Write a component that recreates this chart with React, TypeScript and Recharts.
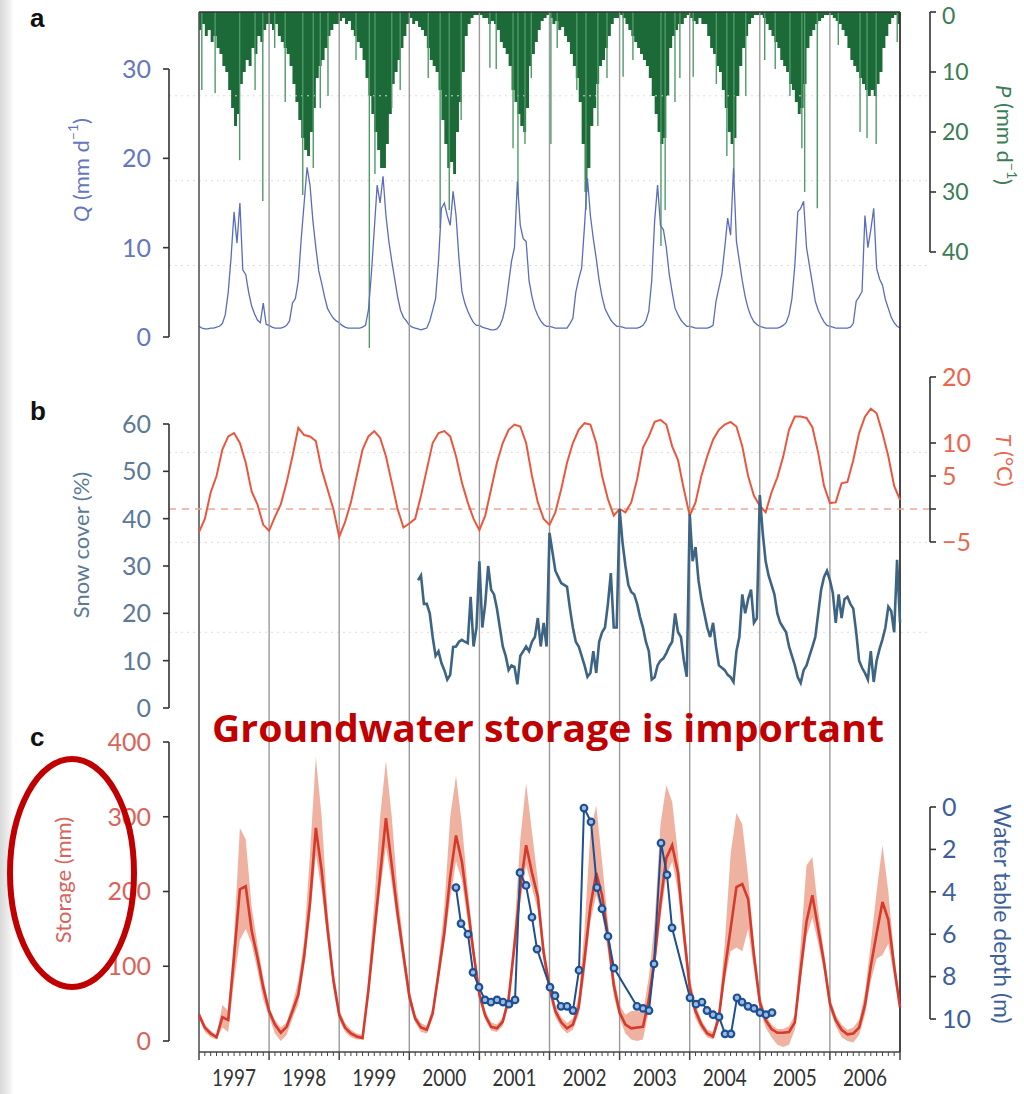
import React from 'react';
import {
  ComposedChart,
  Area,
  Line,
  Scatter,
  ErrorBar,
  XAxis,
  YAxis,
  ReferenceLine,
} from 'recharts';

// ---------- values ----------
const years = [1997, 1998, 1999, 2000, 2001, 2002, 2003, 2004, 2005, 2006];

// a: discharge Q (mm/d), 24 values per year from 1997.0, last one at 2007.0
const discharge = [
  1.2, 1.0, 0.9, 0.9, 1.0, 1.0, 1.1, 1.2, 1.5, 2.5, 5, 9, 14, 10.5, 15, 7.5, 7, 5, 3.5, 2.6, 1.9, 1.6, 3.8, 1.4,
  1.3, 1.1, 1.0, 1.0, 1.0, 1.1, 1.3, 1.8, 3.8, 4.3, 6.3, 11, 15, 19, 17, 13, 10, 7.4, 6, 4.5, 3.2, 2.6, 2.1, 1.8,
  1.6, 1.3, 1.1, 1.0, 1.0, 1.0, 1.0, 1.0, 1.1, 1.3, 3, 7, 12, 17, 15, 18, 13.6, 10.7, 8.5, 6.5, 4.5, 3, 2.2, 1.8,
  1.3, 1.1, 1.0, 0.9, 0.8, 0.9, 1.0, 1.8, 3, 4.3, 8.5, 14.4, 15, 13.6, 12.5, 16.3, 13.6, 8.8, 5.1, 3.8, 2.9, 2.2, 1.6, 1.3,
  1.3, 1.1, 1.0, 0.9, 0.8, 0.8, 0.9, 1.3, 2.1, 3.5, 6, 8.5, 10, 17.4, 12.5, 11, 10.7, 6.3, 4.5, 3.2, 2.4, 1.8, 1.4, 1.2,
  1.2, 1.1, 1.0, 1.0, 1.0, 1.0, 1.0, 1.5, 2.1, 5, 6.5, 7.7, 12.5, 17.8, 13.6, 11, 8.8, 6.3, 4.5, 3.2, 2.5, 1.9, 1.5, 1.2,
  1.2, 1.1, 1.0, 1.0, 1.0, 1.0, 1.0, 1.1, 1.3, 1.8, 2.9, 6.3, 13, 17, 12.5, 12, 10, 7, 5, 3.2, 2.5, 1.9, 1.5, 1.2,
  1.2, 1.1, 1.0, 1.0, 1.0, 1.0, 1.0, 1.1, 1.3, 4, 5.5, 7, 10, 13.3, 11.4, 18.9, 10.7, 8.5, 6.3, 4.5, 3.2, 2.3, 1.7, 1.4,
  1.2, 1.1, 1.0, 1.0, 1.0, 1.0, 1.0, 1.1, 1.3, 1.6, 2.5, 4.3, 8, 14, 14.4, 15.2, 10, 8, 6, 4, 3, 2.3, 1.7, 1.3,
  1.2, 1.1, 1.0, 1.0, 1.0, 1.0, 1.0, 1.1, 1.5, 4, 4.5, 5.1, 13.6, 10, 12, 14.4, 7.7, 6.5, 5.8, 4.2, 3.2, 2.2, 1.6, 1.2,
  1.0,
];

// a: precipitation P (mm/d), bulk of the daily bars, 24 per year
const precip = [
  3, 2, 4, 3, 5, 4, 6, 7, 9, 10, 13, 16, 19, 17, 12, 10, 8, 9, 6, 7, 4, 5, 3, 2,
  2, 3, 2, 4, 5, 6, 7, 9, 12, 15, 18, 21, 23, 24, 20, 16, 11, 9, 8, 6, 4, 3, 2, 2,
  1.5, 1, 2, 1.5, 3, 4, 5, 6, 8, 11, 14, 17, 20, 23, 26, 26, 22, 17, 12, 10, 8, 6, 4, 2,
  1, 2, 1.5, 2.5, 3, 4, 6, 8, 9, 10, 13, 18, 22, 26, 25, 27, 20, 15, 10, 4, 2, 1, 0.5, 0.5,
  0.5, 1, 1, 2, 1.5, 2, 3, 5, 6, 7, 9, 13, 15, 17, 19, 20, 16, 9, 7, 5, 3, 1.5, 1, 0.5,
  1, 2, 1.5, 3, 2.5, 4, 5, 7, 9, 11, 15, 22, 30, 26, 19, 16, 12, 9, 8, 6, 4, 2, 1, 1,
  0.5, 1, 2, 3, 4, 5, 6, 7, 8, 9, 11, 14, 17, 20, 22, 21, 14, 6, 4, 3, 2, 2, 1, 0.5,
  1, 1.5, 2, 1, 2, 2, 4, 6, 7, 9, 10, 13, 16, 20, 22, 21, 14, 9, 6, 4, 2, 1, 0.5, 0.5,
  0.5, 1, 2, 3, 4, 5, 6, 8, 9, 10, 12, 13, 15, 17, 16, 12, 6, 4, 3, 2, 1.5, 1, 0.5, 0.5,
  0.5, 1, 1.5, 2, 3, 4, 6, 8, 9, 10, 11, 12, 13, 14, 13, 14, 12, 10, 6, 4, 2, 1, 0.5, 2,
  2,
];

// a: single wet days that stick out of the bulk [time, P]
const precipSpikes = [
  [1997.04, 13], [1997.23, 13.5], [1997.58, 24.7], [1997.8, 13], [1997.91, 31.5],
  [1998.08, 6], [1998.23, 15], [1998.48, 30.5], [1998.63, 26], [1998.73, 16], [1998.84, 14],
  [1999.24, 8], [1999.43, 56], [1999.51, 27], [1999.75, 16], [1999.87, 13],
  [2000.27, 11], [2000.44, 36], [2000.57, 33], [2000.74, 18],
  [2001.15, 9.3], [2001.24, 9.5], [2001.48, 22.7], [2001.55, 30.5], [2001.65, 22], [2001.74, 11],
  [2002.02, 22], [2002.11, 6], [2002.39, 13], [2002.52, 33], [2002.69, 19], [2002.82, 11],
  [2003.05, 10.8], [2003.19, 8], [2003.59, 39], [2003.65, 33], [2003.79, 15], [2003.86, 11],
  [2004.05, 10.8], [2004.38, 12], [2004.53, 24], [2004.63, 27.7], [2004.8, 14],
  [2005.07, 8], [2005.22, 9.5], [2005.43, 14], [2005.6, 22.7], [2005.64, 30], [2005.82, 32.7],
  [2006.12, 5.5], [2006.43, 20], [2006.53, 21], [2006.66, 22], [2006.96, 5],
];

// b: air temperature T (°C), monthly from 1997.0, last at 2007.0
const temperature = [
  -3.5, -1.5, 2.5, 5, 9, 11, 11.5, 10, 7, 2.7, 0.7, -2.4,
  -3.3, -1.2, 0.7, 4, 8, 12.3, 11.2, 11, 10.3, 6, 3, 0,
  -4.2, -2, 1, 5, 9, 11, 11.8, 10.8, 8, 4, 0, -2.8,
  -2.2, -1.5, 2, 6, 10, 11.5, 11.8, 11, 8, 4, 1, -1.5,
  -3.2, -1, 3, 7, 10, 12, 12.8, 12.5, 10, 5, 1, -1.5,
  -2.4, -0.5, 3, 7, 10, 12, 13, 12.8, 10, 5, 1.5, -1,
  0, -0.5, 1, 4.5, 9.3, 11, 13.2, 13.5, 12.8, 9.5, 7.4, 3,
  -1, 1, 5, 8, 10.5, 12, 12.8, 13.2, 12.5, 9.5, 5, 2,
  0.5, -0.5, 2.5, 4.8, 7.9, 12, 14, 14, 13.8, 12.4, 8.5, 3.5,
  0.9, 1, 3.9, 4.1, 7.4, 11.5, 14, 15.2, 14.5, 11.5, 8, 3.5,
  1.4,
];

// b: snow cover (%), 24 per year starting 2000.125
const snowStart = 2000.125;
const snowCover = [
  27, 28, 22, 22, 20, 15, 11, 12, 9.5, 8, 6, 7, 12.9, 13, 14, 14.4, 14, 13.7, 23.5, 13, 17,
  31, 17, 22, 30, 25, 24, 21, 17, 13, 11, 8, 9, 8.7, 5, 11, 12, 13, 12, 14, 15, 19, 13, 18, 13,
  37, 33, 29, 27.7, 26.4, 26, 25.6, 21, 17, 14, 13, 11, 9, 6.6, 7.4, 12, 7.4, 14, 16, 17, 22, 28.5, 17, 17,
  42, 35, 30, 26, 24.5, 24, 22, 19.2, 17, 14, 12, 6, 6.5, 9, 10, 10.5, 11.6, 13, 14, 20, 16, 15, 10, 6.6,
  41, 31, 34, 27, 23, 20, 17, 15, 18, 13, 9, 8.5, 8, 7, 6.5, 5.5, 12, 15, 24, 20, 23, 25, 18, 19,
  45, 37, 31, 28, 26, 24, 20, 18, 17, 16, 13, 11, 9, 6.5, 5.3, 8, 9, 11, 12.9, 15, 20, 25, 27.7, 29,
  27, 24.3, 18, 24, 19, 23, 23.5, 22, 21, 16, 10, 8.5, 7.4, 6, 12, 5.5, 10, 12.5, 14.5, 17, 21.4, 20.5, 16, 31.3,
  18,
];

// c: modelled storage (mm) with its uncertainty band, monthly from 1997.0
const storage = [
  35, 18, 10, 5, 32, 28, 113, 203, 207, 148, 112, 72,
  40, 22, 11, 19, 40, 62, 113, 185, 285, 228, 150, 82,
  35, 18, 10, 6, 4, 68, 145, 222, 298, 235, 170, 115,
  60, 30, 18, 15, 37, 90, 145, 220, 275, 240, 180, 118,
  62, 34, 19, 17, 26, 56, 128, 205, 262, 225, 193, 118,
  72, 40, 25, 17, 22, 45, 110, 180, 225, 195, 140, 75,
  38, 22, 17, 18, 19, 55, 110, 185, 245, 262, 225, 145,
  72, 40, 22, 10, 6, 32, 95, 150, 206, 210, 190, 115,
  52, 28, 16, 11, 11, 12, 25, 95, 160, 195, 150, 105,
  50, 28, 15, 9, 10, 18, 48, 100, 144, 186, 162, 100,
  45,
];
const storageLow = [
  30, 12, 5, 2, 18, 12, 80, 135, 150, 130, 95, 55,
  32, 10, 0, 8, 30, 50, 100, 165, 250, 200, 135, 70,
  28, 12, 5, 2, 2, 55, 130, 200, 260, 210, 155, 100,
  50, 25, 12, 10, 30, 80, 130, 190, 240, 215, 160, 105,
  55, 28, 14, 12, 20, 48, 115, 185, 235, 205, 175, 105,
  62, 32, 18, 10, 15, 35, 90, 160, 195, 170, 120, 60,
  30, 10, 2, 0, 2, 40, 95, 165, 220, 240, 200, 125,
  60, 30, 15, 5, 2, 25, 80, 120, 125, 120, 150, 95,
  42, 18, 5, -5, -8, -5, 15, 80, 140, 165, 130, 92,
  42, 20, 5, 0, -2, 8, 35, 80, 110, 115, 130, 85,
  38,
];
const storageHigh = [
  40, 22, 14, 8, 48, 40, 140, 285, 270, 180, 130, 85,
  45, 28, 18, 25, 50, 80, 135, 250, 380, 300, 175, 95,
  42, 24, 15, 10, 8, 85, 185, 300, 375, 300, 200, 130,
  70, 36, 24, 20, 45, 105, 180, 300, 355, 290, 205, 130,
  70, 40, 25, 22, 32, 66, 150, 270, 345, 280, 215, 130,
  82, 48, 32, 24, 30, 60, 150, 280, 315, 240, 160, 88,
  48, 35, 40, 40, 38, 85, 160, 290, 342, 320, 250, 165,
  85, 50, 28, 15, 12, 45, 130, 250, 305, 290, 220, 130,
  62, 35, 22, 16, 16, 20, 35, 130, 235, 246, 175, 118,
  58, 35, 22, 15, 18, 28, 65, 130, 200, 262, 200, 115,
  52,
];

// c: observed water table depth (m) [time, depth]
const waterTable = [
  [2000.666, 3.8], [2000.738, 5.5], [2000.837, 6.0], [2000.909, 7.8], [2000.994, 8.5],
  [2001.08, 9.1], [2001.165, 9.2], [2001.251, 9.1], [2001.337, 9.2], [2001.422, 9.3], [2001.508, 9.1],
  [2001.579, 3.1], [2001.665, 3.7], [2001.75, 5.2], [2001.822, 6.7],
  [2002.007, 8.5], [2002.078, 8.9], [2002.164, 9.4], [2002.25, 9.4], [2002.335, 9.6], [2002.421, 7.7],
  [2002.492, 0.05], [2002.592, 0.7], [2002.678, 3.8], [2002.749, 4.8], [2002.834, 6.1], [2002.92, 7.6],
  [2003.248, 9.4], [2003.334, 9.5], [2003.419, 9.6], [2003.491, 7.4], [2003.591, 1.7], [2003.676, 3.2], [2003.748, 5.7],
  [2004.004, 9.0], [2004.09, 9.3], [2004.175, 9.2], [2004.247, 9.6], [2004.333, 9.8], [2004.418, 9.9],
  [2004.504, 10.7], [2004.589, 10.7], [2004.675, 9.0], [2004.746, 9.2], [2004.832, 9.4], [2004.917, 9.5],
  [2005.003, 9.7], [2005.089, 9.8], [2005.174, 9.7],
];

const qTicks = [0, 10, 20, 30];
const pTicks = [0, 10, 20, 30, 40];
const snowTicks = [0, 10, 20, 30, 40, 50, 60];
const tTicks = [-5, 0, 5, 10, 20];
const storageTicks = [0, 100, 200, 300, 400];
const depthTicks = [0, 2, 4, 6, 8, 10];
const qGuides = [27, 17.5, 8];
const snowGuides = [54, 35, 16];

// ---------- tables for the library ----------
const qData = discharge.map((q, i) => ({ t: 1997 + i / 24, q }));
const pData = precip.map((p, i) => ({ t: 1997 + i / 24, p }));
const spikeData = precipSpikes.map(([t, p]) => ({ t, p, err: [p, 0] }));
const tempData = temperature.map((temp, i) => ({ t: 1997 + i / 12, temp }));
const snowData = snowCover.map((snow, i) => ({ t: snowStart + i / 24, snow }));
const storageData = storage.map((st, i) => ({
  t: 1997 + i / 12,
  st,
  band: [storageLow[i], storageHigh[i]],
}));
const waterData = waterTable.map(([t, d]) => ({ t, d }));
const monthTicks = [...years.flatMap((y) => Array.from({ length: 12 }, (_, m) => y + m / 12)), 2007];
const innerYears = years.slice(1);

// ---------- layout ----------
const W = 1024;
const H = 1094;
const PLOT_L = 169;
const PLOT_R = 930;
const PX_YEAR = 70.1;
const X_MIN = 1997 - (199 - PLOT_L) / PX_YEAR;
const X_MAX = 2007 + (PLOT_R - 900) / PX_YEAR;
const LEFT_W = 80;
const RIGHT_W = 60;
const FONT = "Lato, 'Open Sans', sans-serif";

// axis value at a page y, from two tick positions
const lin = (v0: number, y0: number, v1: number, y1: number) => (y: number) =>
  v0 + ((y - y0) * (v1 - v0)) / (y1 - y0);
const domainOf = (f: (y: number) => number, top: number, bottom: number): [number, number] => {
  const a = f(top);
  const b = f(bottom);
  return [Math.min(a, b), Math.max(a, b)];
};

const A_TOP = 12, A_BOT = 355;
const B_TOP = 355, B_BOT = 715;
const C_TOP = 715, C_BOT = 1052;
const qDomain = domainOf(lin(0, 337, 30, 69), A_TOP, A_BOT);
const pDomain = domainOf(lin(0, 12, 40, 252), A_TOP, A_BOT);
const snowDomain = domainOf(lin(0, 708, 60, 424), B_TOP, B_BOT);
const tDomain = domainOf(lin(-5, 542, 20, 377), B_TOP, B_BOT);
const stDomain = domainOf(lin(0, 1041, 400, 742), C_TOP, C_BOT);
const wDomain = domainOf(lin(0, 807, 10, 1019), C_TOP, C_BOT);

const C = {
  q: '#5a6cbc',
  qText: '#6677bb',
  p: '#1b6a37',
  pSpike: '#4f9a68',
  pText: '#3b7c55',
  t: '#e9573e',
  tText: '#e8674e',
  snow: '#3e6484',
  snowText: '#5b7a96',
  st: '#d53a2d',
  band: '#eca48f',
  stText: '#d8645c',
  w: '#1d4f91',
  wText: '#3d6099',
  axis: '#333',
  year: '#9a9a9a',
};

const margin = (top: number, bottom: number) => ({
  top,
  bottom: H - bottom,
  left: PLOT_L - LEFT_W,
  right: W - PLOT_R - RIGHT_W,
});

const tickStyle = (fill: string, size = 25) => ({ fill, fontSize: size, fontFamily: FONT });

const frame = (axisId: string) => [
  <ReferenceLine key="l" x={1997} yAxisId={axisId} stroke="#555" strokeWidth={1.6} />,
  <ReferenceLine key="r" x={2007} yAxisId={axisId} stroke="#333" strokeWidth={1.8} />,
  ...innerYears.map((y) => (
    <ReferenceLine key={y} x={y} yAxisId={axisId} stroke={C.year} strokeWidth={1.4} />
  )),
];

const bracket = (axisId: string, x: number, lo: number, hi: number) => (
  <ReferenceLine
    yAxisId={axisId}
    segment={[{ x, y: lo }, { x, y: hi }]}
    stroke={C.axis}
    strokeWidth={1.6}
  />
);

const fmtMinus = (v: number) => (v === 0 ? '' : v < 0 ? `\u2212${-v}` : `${v}`);

const YearTick = (props: any) => {
  const { x, y, payload } = props;
  const v = payload.value as number;
  const isYear = Math.abs(v - Math.round(v)) < 1e-6;
  const isMid = Math.abs(v - Math.floor(v) - 0.5) < 1e-6;
  return (
    <g>
      <line x1={x} x2={x} y1={y} y2={y + (isYear ? 8 : 4)} stroke="#444" strokeWidth={isYear ? 1.5 : 1} />
      {isMid && (
        <text
          x={x}
          y={y + 34}
          textAnchor="middle"
          fontSize={23}
          fontFamily={FONT}
          fill="#333"
          textLength={44}
          lengthAdjust="spacingAndGlyphs"
        >
          {Math.floor(v)}
        </text>
      )}
    </g>
  );
};

// right-hand P ticks: the top "0" sits on the frame, keep it inside the page
const PTick = (props: any) => {
  const { x, y, payload } = props;
  return (
    <text x={x} y={Math.max(y, 16)} dy="0.36em" textAnchor="start" fontSize={23} fontFamily={FONT} fill={C.pText}>
      {payload.value}
    </text>
  );
};

const layer: React.CSSProperties = { position: 'absolute', left: 0, top: 0 };

function PanelA() {
  return (
    <ComposedChart width={W} height={H} margin={margin(A_TOP, A_BOT)}>
      <XAxis type="number" dataKey="t" domain={[X_MIN, X_MAX]} allowDataOverflow hide />
      <YAxis
        yAxisId="q"
        orientation="left"
        width={LEFT_W}
        type="number"
        domain={qDomain}
        allowDataOverflow
        ticks={qTicks}
        interval={0}
        axisLine={false}
        tickLine={{ stroke: C.axis, strokeWidth: 1.6 }}
        tickSize={6}
        tickMargin={12}
        tick={tickStyle(C.qText)}
      />
      <YAxis
        yAxisId="p"
        orientation="right"
        width={RIGHT_W}
        type="number"
        reversed
        domain={pDomain}
        allowDataOverflow
        ticks={pTicks}
        interval={0}
        axisLine={false}
        tickLine={{ stroke: C.axis, strokeWidth: 1.6 }}
        tickSize={6}
        tickMargin={6}
        tick={<PTick />}
      />
      {qGuides.map((g) => (
        <ReferenceLine key={g} y={g} yAxisId="q" stroke="#dcdcdc" strokeDasharray="2 4" />
      ))}
      <Area
        data={pData}
        dataKey="p"
        yAxisId="p"
        type="stepAfter"
        stroke="none"
        fill={C.p}
        fillOpacity={1}
        isAnimationActive={false}
      />
      <Scatter data={spikeData} dataKey="p" yAxisId="p" shape={() => <g />} isAnimationActive={false}>
        <ErrorBar dataKey="err" direction="y" width={0} stroke={C.pSpike} strokeWidth={1.4} />
      </Scatter>
      <Line
        data={qData}
        dataKey="q"
        yAxisId="q"
        type="linear"
        stroke={C.q}
        strokeWidth={1.3}
        dot={false}
        isAnimationActive={false}
      />
      {frame('q')}
      <ReferenceLine
        yAxisId="p"
        segment={[{ x: 1997, y: 0 }, { x: 2007, y: 0 }]}
        stroke="#333"
        strokeWidth={1.6}
      />
      {bracket('q', X_MIN, 0, 30)}
      {bracket('p', X_MAX, 0, 40)}
    </ComposedChart>
  );
}

function PanelB() {
  return (
    <ComposedChart width={W} height={H} margin={margin(B_TOP, B_BOT)}>
      <XAxis type="number" dataKey="t" domain={[X_MIN, X_MAX]} allowDataOverflow hide />
      <YAxis
        yAxisId="s"
        orientation="left"
        width={LEFT_W}
        type="number"
        domain={snowDomain}
        allowDataOverflow
        ticks={snowTicks}
        interval={0}
        axisLine={false}
        tickLine={{ stroke: C.axis, strokeWidth: 1.6 }}
        tickSize={6}
        tickMargin={12}
        tick={tickStyle(C.snowText)}
      />
      <YAxis
        yAxisId="t"
        orientation="right"
        width={RIGHT_W}
        type="number"
        domain={tDomain}
        allowDataOverflow
        ticks={tTicks}
        interval={0}
        axisLine={false}
        tickLine={{ stroke: C.axis, strokeWidth: 1.6 }}
        tickSize={6}
        tickMargin={6}
        tickFormatter={fmtMinus}
        tick={tickStyle(C.tText)}
      />
      {snowGuides.map((g) => (
        <ReferenceLine key={g} y={g} yAxisId="s" stroke="#dcdcdc" strokeDasharray="2 4" />
      ))}
      {frame('s')}
      <ReferenceLine y={0} yAxisId="t" stroke="#f1a890" strokeDasharray="7 6" strokeWidth={1.5} />
      <Line
        data={tempData}
        dataKey="temp"
        yAxisId="t"
        type="linear"
        stroke={C.t}
        strokeWidth={2}
        dot={false}
        isAnimationActive={false}
      />
      <Line
        data={snowData}
        dataKey="snow"
        yAxisId="s"
        type="linear"
        stroke={C.snow}
        strokeWidth={2.6}
        dot={false}
        isAnimationActive={false}
      />
      {bracket('s', X_MIN, 0, 60)}
      {bracket('t', X_MAX, -5, 20)}
    </ComposedChart>
  );
}

function PanelC() {
  return (
    <ComposedChart width={W} height={H} margin={{ ...margin(C_TOP, C_BOT), bottom: H - C_BOT - 40 }}>
      <XAxis
        type="number"
        dataKey="t"
        domain={[X_MIN, X_MAX]}
        allowDataOverflow
        ticks={monthTicks}
        interval={0}
        axisLine={false}
        tickLine={false}
        tickSize={0}
        tickMargin={0}
        height={40}
        tick={<YearTick />}
      />
      <YAxis
        yAxisId="st"
        orientation="left"
        width={LEFT_W}
        type="number"
        domain={stDomain}
        allowDataOverflow
        ticks={storageTicks}
        interval={0}
        axisLine={false}
        tickLine={{ stroke: C.axis, strokeWidth: 1.6 }}
        tickSize={6}
        tickMargin={12}
        tick={tickStyle(C.stText)}
      />
      <YAxis
        yAxisId="w"
        orientation="right"
        width={RIGHT_W}
        type="number"
        reversed
        domain={wDomain}
        allowDataOverflow
        ticks={depthTicks}
        interval={0}
        axisLine={false}
        tickLine={{ stroke: C.axis, strokeWidth: 1.6 }}
        tickSize={6}
        tickMargin={6}
        tick={tickStyle(C.wText)}
      />
      {frame('st')}
      <Area
        data={storageData}
        dataKey="band"
        yAxisId="st"
        type="linear"
        stroke="none"
        fill={C.band}
        fillOpacity={0.85}
        isAnimationActive={false}
      />
      <Line
        data={storageData}
        dataKey="st"
        yAxisId="st"
        type="linear"
        stroke={C.st}
        strokeWidth={2.6}
        dot={false}
        isAnimationActive={false}
      />
      <Line
        data={waterData}
        dataKey="d"
        yAxisId="w"
        type="linear"
        stroke={C.w}
        strokeWidth={2}
        dot={{ r: 3.3, fill: '#9dbbe0', stroke: C.w, strokeWidth: 2.2 }}
        isAnimationActive={false}
      />
      <ReferenceLine
        yAxisId="st"
        segment={[{ x: 1997, y: stDomain[0] }, { x: 2007, y: stDomain[0] }]}
        stroke="#444"
        strokeWidth={1.6}
      />
      {bracket('st', X_MIN, 0, 400)}
      {bracket('w', X_MAX, 0, 10)}
    </ComposedChart>
  );
}

const sup = (t: string) => (
  <>
    <tspan dy={-8} fontSize={14}>{t}</tspan>
    <tspan dy={8}>)</tspan>
  </>
);

function Overlay() {
  const title = { fontFamily: FONT, fontSize: 22, textAnchor: 'middle' as const, dominantBaseline: 'central' as const };
  return (
    <svg width={W} height={H} style={{ ...layer, pointerEvents: 'none' }}>
      <g fontFamily="'Liberation Sans', Arial, sans-serif" fontWeight={700} fontSize={26} fill="#111">
        <text x={30} y={27}>a</text>
        <text x={30} y={420}>b</text>
        <text x={30} y={746}>c</text>
      </g>
      <text {...title} x={80} y={170} fill={C.qText} transform="rotate(-90 80 170)">
        <tspan fontStyle="italic">Q</tspan> (mm d{sup('\u22121')}
      </text>
      <text {...title} x={1005} y={135} fill={C.pText} transform="rotate(90 1005 135)">
        <tspan fontStyle="italic">P</tspan> (mm d{sup('\u22121')}
      </text>
      <text {...title} x={80} y={545} fill={C.snowText} transform="rotate(-90 80 545)">
        Snow cover (%)
      </text>
      <text {...title} x={1005} y={460} fill={C.tText} transform="rotate(90 1005 460)">
        <tspan fontStyle="italic">T</tspan> (°C)
      </text>
      <text {...title} x={62} y={880} fill={C.stText} transform="rotate(-90 62 880)">
        Storage (mm)
      </text>
      <text {...title} x={1003} y={914} fontSize={23} fill={C.wText} transform="rotate(90 1003 914)">
        Water table depth (m)
      </text>
      <text
        x={548}
        y={742}
        textAnchor="middle"
        fontFamily="'Open Sans', sans-serif"
        fontWeight={700}
        fontSize={38}
        fill="#c00000"
        textLength={672}
        lengthAdjust="spacingAndGlyphs"
      >
        Groundwater storage is important
      </text>
      <ellipse cx={72} cy={873} rx={62} ry={114} fill="none" stroke="#c00000" strokeWidth={6} />
    </svg>
  );
}

export default function App() {
  return (
    <div style={{ position: 'absolute', left: 0, top: 0, width: W, height: H, background: '#fff', overflow: 'hidden' }}>
      <div
        style={{
          position: 'absolute',
          left: 0,
          top: 0,
          width: 14,
          height: H,
          background: 'linear-gradient(to right, #d9d9d9, #ededed 60%, #ffffff)',
        }}
      />
      <div style={layer}>
        <PanelA />
      </div>
      <div style={layer}>
        <PanelB />
      </div>
      <div style={layer}>
        <PanelC />
      </div>
      <Overlay />
    </div>
  );
}
